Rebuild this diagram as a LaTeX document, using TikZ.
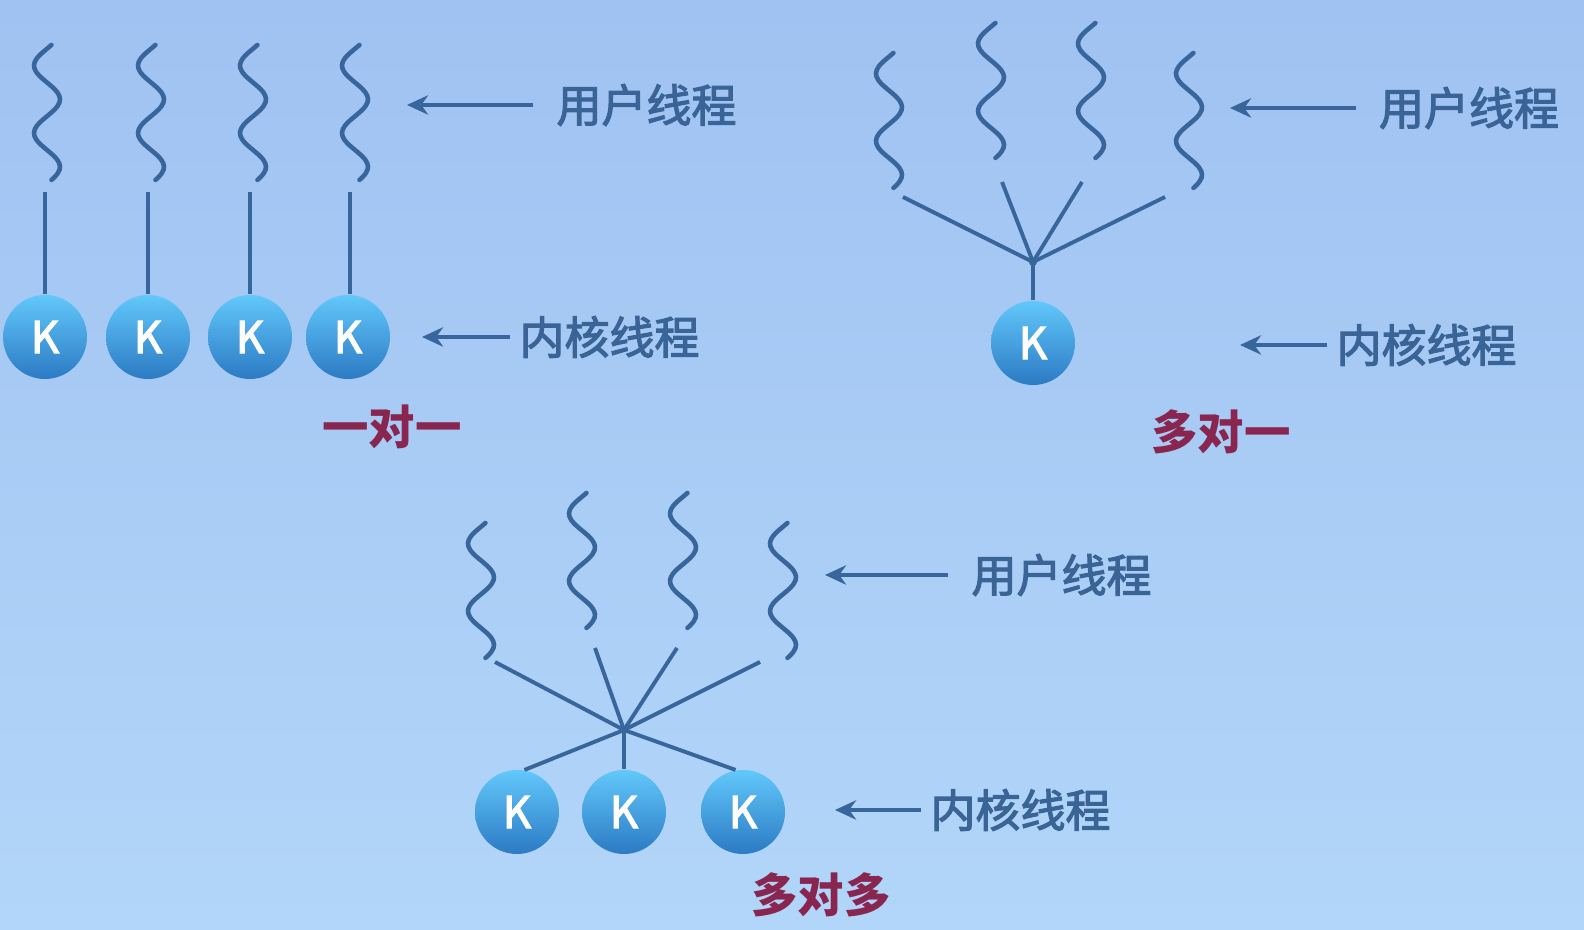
\documentclass[tikz,border=0pt]{standalone}
\usepackage{fontspec}
\usepackage{tikz}
\usetikzlibrary{arrows.meta, positioning}
\newfontfamily\cjk[FakeBold=2.6]{Noto Sans CJK SC}
\newfontfamily\cjkk[FakeBold=2.8]{Noto Sans CJK SC}
\newfontfamily\cjkcap{Noto Sans CJK SC}
\definecolor{bgtop}{RGB}{160,194,242}
\definecolor{bgbot}{RGB}{178,214,249}
\definecolor{linkblue}{RGB}{56,102,156}
\definecolor{textblue}{RGB}{58,100,150}
\definecolor{captred}{RGB}{136,38,80}
\definecolor{ktop}{RGB}{98,200,250}
\definecolor{kbot}{RGB}{44,122,196}
\tikzstyle{kthread} = [circle, minimum size=0.84cm, inner sep=0pt, top color=ktop, bottom color=kbot, draw=none, text=white, font=\cjkk\fontsize{12.5pt}{14pt}\selectfont]
\tikzstyle{wave} = [line width=1.3pt, draw=linkblue, line cap=round]
\tikzstyle{link} = [line width=1.1pt, draw=linkblue]
\tikzstyle{arrow} = [line width=1.2pt, draw=linkblue, ->, >={Stealth[length=6pt,width=5.5pt]}]
\tikzstyle{tag} = [inner sep=1pt, text=textblue, font=\cjk\fontsize{12.8pt}{14pt}\selectfont]
\tikzstyle{caption} = [inner sep=1pt, text=captred, font=\cjkcap\fontsize{13.2pt}{15pt}\selectfont\bfseries]
\newcommand{\uthread}[2]{\draw [wave] plot[domain=0:1, samples=41, smooth, variable=\s] ({#1+0.13*sin(720*\s+160)}, {#2-1.35*\s});}

\begin{document}
\begin{tikzpicture}
\useasboundingbox (0,0) rectangle (15.84,9.30);
\shade [top color=bgtop, bottom color=bgbot] (0,0) rectangle (15.84,9.30);

% one to one
\uthread{0.47}{8.85}
\uthread{1.51}{8.85}
\uthread{2.53}{8.85}
\uthread{3.55}{8.85}
\node (k1) [kthread] at (0.45,5.93) {K};
\node (k2) [kthread] at (1.48,5.93) {K};
\node (k3) [kthread] at (2.50,5.93) {K};
\node (k4) [kthread] at (3.48,5.93) {K};
\coordinate (u1) at (0.45,7.38);
\coordinate (u2) at (1.48,7.38);
\coordinate (u3) at (2.50,7.38);
\coordinate (u4) at (3.50,7.38);
\draw [link] (u1) -- (u1 |- k1.north);
\draw [link] (u2) -- (u2 |- k2.north);
\draw [link] (u3) -- (u3 |- k3.north);
\draw [link] (u4) -- (u4 |- k4.north);
\node (user1) [tag] at (6.465,8.25) {用户线程};
\node (kern1) [tag] at (6.095,5.93) {内核线程};
\coordinate (user1tip) at (4.07,8.25);
\coordinate (kern1tip) at (4.22,5.93);
\draw [arrow, shorten <=0.19cm] (user1.west) -- (user1tip);
\draw [arrow, shorten <=0.05cm] (kern1.west) -- (kern1tip);
\node (cap1) [caption] at (3.92,5.03) {一对一};

% many to one
\uthread{8.89}{8.77}
\uthread{9.91}{9.07}
\uthread{10.91}{9.07}
\uthread{11.89}{8.77}
\coordinate (a1) at (9.03,7.33);
\coordinate (a2) at (10.02,7.48);
\coordinate (a3) at (10.82,7.48);
\coordinate (a4) at (11.65,7.33);
\coordinate (hub1) at (10.33,6.68);
\node (kk) [kthread] at (10.33,5.87) {K};
\draw [link] (a1) -- (hub1);
\draw [link] (a2) -- (hub1);
\draw [link] (a3) -- (hub1);
\draw [link] (a4) -- (hub1);
\draw [link] (hub1) -- (kk.north);
\fill [linkblue] (hub1) circle (0.04);
\node (user2) [tag] at (14.69,8.22) {用户线程};
\node (kern2) [tag] at (14.265,5.85) {内核线程};
\coordinate (user2tip) at (12.30,8.22);
\coordinate (kern2tip) at (12.40,5.85);
\draw [arrow, shorten <=0.19cm] (user2.west) -- (user2tip);
\draw [arrow, shorten <=0.05cm] (kern2.west) -- (kern2tip);
\node (cap2) [caption] at (12.21,4.98) {多对一};

% many to many
\uthread{4.81}{4.07}
\uthread{5.82}{4.37}
\uthread{6.83}{4.37}
\uthread{7.83}{4.07}
\coordinate (b1) at (4.95,2.68);
\coordinate (b2) at (5.95,2.82);
\coordinate (b3) at (6.77,2.82);
\coordinate (b4) at (7.60,2.68);
\coordinate (hub2) at (6.24,2.00);
\node (m1) [kthread] at (5.17,1.18) {K};
\node (m2) [kthread] at (6.24,1.18) {K};
\node (m3) [kthread] at (7.43,1.18) {K};
\draw [link] (b1) -- (hub2);
\draw [link] (b2) -- (hub2);
\draw [link] (b3) -- (hub2);
\draw [link] (b4) -- (hub2);
\draw [link] (hub2) -- (m1.80);
\draw [link] (hub2) -- (m2.north);
\draw [link] (hub2) -- (m3.100);
\fill [linkblue] (hub2) circle (0.04);
\node (user3) [tag] at (10.615,3.55) {用户线程};
\node (kern3) [tag] at (10.205,1.20) {内核线程};
\coordinate (user3tip) at (8.25,3.55);
\coordinate (kern3tip) at (8.35,1.20);
\draw [arrow, shorten <=0.19cm] (user3.west) -- (user3tip);
\draw [arrow, shorten <=0.05cm] (kern3.west) -- (kern3tip);
\node (cap3) [caption] at (8.21,0.35) {多对多};
\end{tikzpicture}
\end{document}
